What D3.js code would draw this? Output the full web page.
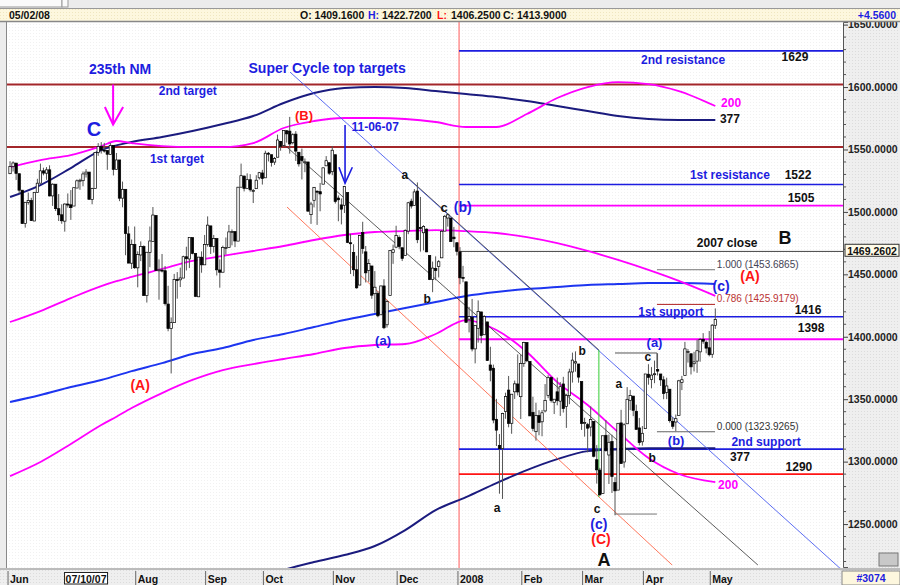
<!DOCTYPE html>
<html>
<head>
<meta charset="UTF-8">
<title>S&P 500 daily - wave count</title>
<script src="https://cdn.jsdelivr.net/npm/d3@7"></script>
<style>
  body { margin: 0; background: #fff; }
  svg text { font-family: "Liberation Sans", Arial, sans-serif; font-weight: bold; }
</style>
</head>
<body>
<svg id="chart" width="900" height="585"></svg>
<script>
// daily bars [open, high, low, close], one array per month
const jun07 = [[1530.6,1540.6,1530.6,1536.3],[1536.3,1540.5,1532.4,1539.2],[1539.1,1539.1,1525.6,1530.9],[1530.6,1530.6,1514.8,1517.4],[1517.4,1517.4,1490.4,1490.7],[1490.7,1507.8,1487.4,1507.7],[1507.6,1515.5,1505.8,1509.1],[1509.1,1511.3,1492.7,1493.0],[1492.7,1515.7,1492.7,1515.7],[1515.6,1526.5,1515.6,1523.0],[1523.0,1538.7,1523.0,1532.9],[1532.9,1535.4,1529.3,1531.1],[1531.0,1535.9,1525.7,1533.7],[1533.7,1537.3,1512.4,1512.8],[1512.8,1522.9,1504.8,1522.2],[1522.2,1522.2,1500.7,1502.6],[1502.6,1514.3,1492.7,1497.7],[1497.7,1506.1,1490.5,1492.9],[1492.6,1506.8,1484.2,1506.3],[1506.3,1514.8,1503.4,1505.7],[1505.7,1517.5,1493.6,1503.4]];
const jul07 = [[1504.7,1519.5,1504.7,1519.4],[1519.1,1526.0,1519.1,1524.9],[1524.9,1526.6,1517.7,1525.4],[1525.0,1532.4,1520.5,1530.4],[1530.4,1534.3,1527.5,1531.9],[1531.9,1531.9,1510.0,1510.1],[1509.9,1519.3,1506.1,1518.8],[1518.7,1547.9,1518.7,1547.7],[1547.7,1555.1,1544.9,1552.5],[1552.5,1555.9,1546.7,1549.5],[1549.5,1555.3,1547.5,1549.4],[1549.2,1549.2,1533.7,1546.2],[1546.1,1555.2,1546.1,1553.1],[1553.2,1553.2,1529.2,1534.1],[1534.1,1547.2,1534.1,1541.6],[1541.6,1541.6,1508.6,1511.0],[1511.0,1524.3,1503.7,1518.1],[1518.1,1518.1,1465.3,1482.7],[1482.4,1488.5,1459.0,1459.0],[1458.9,1477.9,1454.3,1473.9],[1473.9,1488.3,1454.3,1455.3]];
const aug07 = [[1455.2,1468.4,1439.6,1465.8],[1465.5,1476.4,1460.6,1472.2],[1472.2,1473.2,1432.8,1433.1],[1433.0,1467.7,1427.4,1467.7],[1467.6,1488.3,1455.8,1476.7],[1476.2,1503.9,1476.2,1497.5],[1497.2,1497.2,1453.1,1453.1],[1453.1,1462.0,1429.7,1453.6],[1453.4,1466.3,1451.5,1452.9],[1452.9,1456.7,1425.0,1426.5],[1426.2,1440.8,1404.4,1406.7],[1406.6,1415.5,1370.6,1411.3],[1411.3,1450.3,1411.3,1445.9],[1445.9,1451.8,1430.5,1445.6],[1445.6,1455.3,1439.8,1447.1],[1447.0,1464.9,1447.0,1464.1],[1464.1,1472.1,1453.1,1462.5],[1462.3,1479.4,1455.0,1479.4],[1479.4,1479.4,1466.0,1466.8],[1466.7,1466.7,1432.0,1432.4],[1432.0,1463.8,1432.0,1463.8],[1463.7,1468.4,1451.3,1457.6],[1457.6,1481.5,1457.6,1474.0]];
const sep07 = [[1474.0,1496.4,1472.2,1489.4],[1488.8,1488.8,1466.3,1472.3],[1472.3,1481.5,1467.4,1478.6],[1478.6,1478.6,1449.1,1453.6],[1453.5,1462.0,1439.3,1451.7],[1451.7,1473.0,1451.7,1471.5],[1471.1,1479.5,1465.8,1471.6],[1471.5,1489.6,1471.5,1484.0],[1484.0,1486.0,1473.2,1484.3],[1484.2,1484.2,1471.8,1476.7],[1476.6,1519.9,1476.6,1519.8],[1519.8,1538.7,1519.8,1529.0],[1528.7,1529.1,1516.4,1518.8],[1518.8,1530.9,1518.8,1525.8],[1525.8,1530.2,1516.2,1517.7],[1516.3,1518.3,1507.1,1517.2],[1518.6,1529.4,1518.6,1525.4],[1527.3,1532.0,1525.9,1531.4],[1531.2,1533.7,1521.9,1526.8]];
const oct07 = [[1527.3,1549.0,1527.3,1547.0],[1547.0,1548.0,1540.4,1546.6],[1545.8,1545.8,1536.3,1539.6],[1539.9,1544.0,1537.6,1542.8],[1543.8,1561.9,1543.8,1557.6],[1556.5,1556.5,1549.0,1552.6],[1553.2,1565.3,1551.8,1565.2],[1565.0,1565.4,1555.5,1562.5],[1564.7,1576.1,1546.7,1554.4],[1555.4,1563.0,1554.1,1561.8],[1562.3,1564.7,1540.8,1548.7],[1547.8,1547.8,1536.3,1538.5],[1544.4,1550.7,1526.0,1541.2],[1539.3,1542.8,1531.8,1540.1],[1540.0,1540.0,1500.3,1500.6],[1497.8,1508.1,1490.4,1506.3],[1509.3,1520.0,1503.6,1519.6],[1516.6,1517.2,1489.6,1515.9],[1516.2,1523.2,1500.5,1514.4],[1522.2,1535.5,1522.2,1535.3],[1536.9,1544.7,1536.9,1541.0],[1539.4,1539.4,1529.6,1531.0],[1532.2,1552.8,1529.4,1549.4]];
const nov07 = [[1545.8,1545.8,1506.7,1508.4],[1511.1,1513.2,1492.5,1509.7],[1505.6,1510.8,1490.0,1502.2],[1505.3,1520.8,1499.1,1520.3],[1515.5,1515.5,1475.0,1475.6],[1475.3,1482.5,1450.3,1474.8],[1467.6,1474.1,1448.5,1453.7],[1453.7,1464.9,1438.5,1439.2],[1441.4,1481.4,1441.4,1481.0],[1483.4,1492.1,1466.5,1470.6],[1468.0,1472.7,1443.5,1451.2],[1453.1,1462.2,1444.0,1458.7],[1456.7,1456.7,1430.4,1433.3],[1434.5,1452.6,1419.3,1439.7],[1434.7,1436.4,1415.6,1416.8],[1417.6,1440.9,1417.6,1440.7],[1440.7,1446.1,1406.1,1407.2],[1409.6,1429.5,1407.4,1428.2],[1433.0,1469.0,1433.0,1469.0],[1467.4,1473.8,1458.4,1469.7],[1471.8,1488.9,1470.9,1481.1]];
const dec07 = [[1479.6,1481.2,1470.1,1472.4],[1471.3,1471.3,1460.7,1462.8],[1465.2,1486.1,1465.2,1485.0],[1484.6,1508.0,1482.2,1507.3],[1508.6,1510.6,1502.7,1504.7],[1505.1,1518.3,1505.0,1516.0],[1516.7,1523.6,1475.0,1477.7],[1487.6,1512.0,1468.2,1486.6],[1483.3,1489.4,1469.2,1488.4],[1486.2,1486.7,1467.8,1468.0],[1465.1,1465.1,1445.4,1445.9],[1445.9,1460.2,1435.7,1455.0],[1454.7,1464.4,1445.3,1453.0],[1456.4,1461.5,1447.5,1460.1],[1463.2,1485.4,1463.2,1484.5],[1484.6,1497.6,1484.6,1496.5],[1495.1,1498.9,1488.2,1497.7],[1495.1,1495.1,1475.9,1476.3],[1479.8,1488.0,1471.7,1478.5],[1475.3,1475.8,1465.1,1468.4]];
const jan08 = [[1468.0,1471.8,1442.1,1447.2],[1447.6,1456.8,1443.7,1447.2],[1444.0,1444.0,1411.2,1411.6],[1414.1,1423.9,1403.5,1416.2],[1415.7,1430.3,1388.3,1390.2],[1390.3,1409.2,1378.7,1409.1],[1406.8,1429.1,1395.3,1420.3],[1419.9,1419.9,1394.8,1401.0],[1401.6,1417.3,1401.6,1416.3],[1411.9,1411.9,1380.6,1381.0],[1377.4,1392.0,1364.3,1373.2],[1374.8,1377.7,1330.7,1333.3],[1333.9,1350.3,1312.5,1325.2],[1312.9,1322.1,1274.3,1310.5],[1310.4,1339.1,1270.1,1338.6],[1340.1,1355.2,1334.3,1352.1],[1357.3,1368.6,1327.5,1330.6],[1330.7,1354.0,1322.3,1354.0],[1355.9,1364.9,1350.2,1362.3],[1362.2,1385.9,1353.0,1355.8],[1352.0,1385.6,1334.1,1378.6]];
const feb08 = [[1378.6,1396.0,1375.9,1395.4],[1395.4,1395.4,1379.7,1380.8],[1380.3,1380.3,1336.6,1336.6],[1339.5,1352.0,1324.3,1326.5],[1324.0,1347.2,1316.8,1336.9],[1336.9,1341.2,1321.1,1331.3],[1331.9,1341.4,1320.3,1339.1],[1340.6,1362.1,1339.4,1348.9],[1353.1,1369.2,1350.8,1367.2],[1367.3,1368.2,1347.3,1348.9],[1347.5,1350.0,1338.1,1350.0],[1355.9,1367.3,1345.1,1348.8],[1348.4,1363.7,1336.6,1360.0],[1362.2,1367.9,1339.3,1342.5],[1344.2,1354.3,1327.0,1353.1],[1352.8,1374.4,1346.0,1371.8],[1371.8,1387.3,1363.3,1381.3],[1379.0,1388.3,1372.0,1380.0],[1378.2,1378.2,1363.2,1367.7],[1364.1,1364.1,1325.4,1330.6]];
const mar08 = [[1330.5,1335.1,1320.0,1331.3],[1329.6,1331.0,1307.4,1326.8],[1327.7,1344.2,1320.2,1333.7],[1332.2,1332.2,1303.4,1304.3],[1301.5,1313.2,1282.4,1293.4],[1293.2,1295.0,1272.7,1273.4],[1274.4,1320.7,1274.4,1320.7],[1321.1,1333.3,1307.9,1308.8],[1305.3,1321.7,1282.1,1315.5],[1316.1,1321.5,1274.9,1288.1],[1283.2,1287.5,1257.0,1276.6],[1277.2,1330.7,1277.2,1330.7],[1331.0,1341.5,1298.4,1298.4],[1299.7,1330.7,1295.2,1329.5],[1330.3,1359.7,1330.3,1349.9],[1349.1,1357.5,1341.2,1353.0],[1352.5,1352.5,1336.4,1341.1],[1340.3,1345.6,1325.7,1325.8],[1327.0,1334.9,1313.0,1315.2],[1315.9,1328.5,1312.8,1322.7]];
const apr08 = [[1326.4,1370.2,1326.4,1370.2],[1370.0,1378.0,1361.6,1367.5],[1365.7,1375.7,1358.7,1369.3],[1369.9,1380.9,1362.8,1370.4],[1373.7,1386.7,1369.0,1372.5],[1370.2,1370.2,1360.6,1365.5],[1365.5,1368.4,1350.0,1354.5],[1355.4,1367.2,1350.1,1360.6],[1358.0,1358.0,1331.2,1332.8],[1332.2,1335.6,1326.2,1328.3],[1331.7,1337.7,1324.4,1334.4],[1337.0,1365.5,1337.0,1364.7],[1363.4,1368.6,1357.3,1365.6],[1369.0,1395.9,1369.0,1390.3],[1387.7,1390.2,1379.3,1388.2],[1386.4,1386.4,1369.8,1375.9],[1378.4,1387.9,1372.2,1379.9],[1380.5,1397.7,1371.1,1388.8],[1387.9,1399.1,1380.0,1397.8],[1398.0,1402.9,1394.4,1396.4],[1395.6,1397.0,1386.7,1390.9],[1391.2,1404.6,1384.3,1385.6]];
const may08 = [[1386.0,1410.1,1383.1,1409.3],[1409.16,1422.72,1406.25,1413.90]];

const monthLabels = ["Jun", "07/10/07", "Aug", "Sep", "Oct", "Nov", "Dec", "2008", "Feb", "Mar", "Apr", "May"];
const months = [jun07, jul07, aug07, sep07, oct07, nov07, dec07, jan08, feb08, mar08, apr08, may08];

const bandIdx = [0,10,20,30,40,50,60,70,80,90,100,110,120,130,140,150,160,170,180,190,200,210,220,232];
const ma377Upper = [1511.9,1521.5,1535.1,1549.5,1556.0,1560.0,1564.8,1570.4,1576.8,1587.2,1595.2,1599.2,1600.0,1599.2,1596.8,1594.4,1592.0,1588.8,1584.8,1580.8,1576.8,1574.4,1573.6,1573.6];
const ma377 = [1347.7,1353.3,1359.7,1365.3,1372.5,1378.9,1386.2,1391.0,1397.4,1402.2,1407.8,1413.4,1418.2,1423.0,1427.8,1432.6,1435.8,1438.2,1439.8,1441.4,1442.2,1443.0,1443.0,1442.2];
const lowerIdx = [85,90,100,110,120,130,140,150,160,170,180,190,200,210,220,232];
const ma377Lower = [1209.2,1213.2,1219.6,1225.2,1232.4,1245.2,1261.2,1271.6,1282.8,1293.2,1302.0,1308.4,1310.0,1310.8,1310.8,1310.8];
const ma200Idx = [0,10,20,30,35,40,50,60,70,80,90,100,110,120,130,140,150,160,170,180,190,200,210,220,232];
const ma200Upper = [1535.9,1541.5,1545.5,1552.7,1556.8,1555.1,1552.7,1551.9,1551.9,1555.1,1567.2,1572.8,1575.2,1575.2,1574.4,1572.0,1568.0,1568.0,1578.4,1591.2,1600.0,1604.0,1602.4,1596.8,1584.8];
const ma200 = [1411.8,1420.6,1431.0,1440.6,1444.5,1447.9,1454.3,1460.7,1464.7,1468.7,1472.7,1477.5,1481.5,1483.9,1484.6,1485.4,1484.6,1483.1,1479.8,1475.0,1468.7,1461.5,1453.5,1444.7,1432.7];
const ma200Lower = [1288.4,1299.7,1314.1,1329.3,1336.0,1342.9,1354.9,1365.4,1373.3,1378.1,1382.2,1386.2,1391.0,1393.4,1394.2,1402.2,1413.4,1405.4,1387.8,1363.7,1345.3,1323.7,1302.9,1290.1,1283.6];

// price levels
const targetLevels = [1602, 1552];
const levelValues = [1629, 1522, 1505, 1468.36, 1416, 1398, 1310, 1290];
const fibLevels = [1453.6865, 1425.9179, 1323.9265];
const closeMarker = 1469.2602;

// trend lines [[bar, price], [bar, price]]
const channelBlue = [[92.1, 1612.0], [274, 1212.4]];
const channelBlackLow = [[88.8, 1556.8], [246, 1217.2]];
const channelBlackHigh = [[129.9, 1529.5], [193.7, 1389.4]];
const channelRed = [[91.1, 1503.9], [217.8, 1217.2]];

const header = { date: "05/02/08", o: "1409.1600", h: "1422.7200", l: "1406.2500", c: "1413.9000", chg: "+4.5600" };

// ---------------------------------------------------------------
const bars = [].concat(...months);
const starts = [];
months.reduce((acc, m) => { starts.push(acc); return acc + m.length; }, 0);

const svg = d3.select("#chart");
const L = 7, R = 843, T = 22, B = 568;
const x = d3.scaleLinear().domain([-1, 274]).range([L, R]);
const y = d3.scaleLinear().domain([1215.6, 1652.1]).range([567, 22]);

const BLUE = "#1d1de0", RED = "#ff1414", MAG = "#ff00ff", NAVY = "#1b1b7e", DKRED = "#a3262a";

const defs = svg.append("defs");
defs.append("clipPath").attr("id", "plot").append("rect")
  .attr("x", L).attr("y", T).attr("width", R - L).attr("height", B - T);
defs.append("clipPath").attr("id", "axisclip").append("rect")
  .attr("x", 0).attr("y", T).attr("width", 900 - R).attr("height", B - T);
function dots(id, bg, fg) {
  const p = defs.append("pattern").attr("id", id).attr("width", 3).attr("height", 3)
    .attr("patternUnits", "userSpaceOnUse");
  p.append("rect").attr("width", 3).attr("height", 3).attr("fill", bg);
  p.append("rect").attr("width", 1).attr("height", 1).attr("fill", fg);
}
dots("dPlot", "#ffffff", "#f1f1f1");
dots("dAxis", "#efefef", "#dcdcdc");
dots("dHead", "#fdf7de", "#efe6c0");

// backgrounds
svg.append("rect").attr("width", 900).attr("height", 585).attr("fill", "#ececec");
svg.append("rect").attr("x", L).attr("y", T).attr("width", R - L).attr("height", B - T).attr("fill", "url(#dPlot)");
svg.append("rect").attr("x", R).attr("y", T).attr("width", 900 - R).attr("height", B - T).attr("fill", "url(#dAxis)");
svg.append("rect").attr("x", 0).attr("y", B).attr("width", 900).attr("height", 585 - B).attr("fill", "url(#dAxis)");

// right axis
const axisG = svg.append("g").attr("transform", `translate(${R},0)`).attr("clip-path", "url(#axisclip)");
axisG.call(d3.axisRight(y).tickValues(d3.range(1250, 1651, 50)).tickFormat(d3.format(".4f")).tickSize(5).tickPadding(1))
  .call(g => g.select(".domain").attr("stroke", "#555"))
  .call(g => g.selectAll(".tick line").attr("stroke", "#444"))
  .call(g => g.selectAll("text").attr("fill", "#222").style("font-size", "10.5px").attr("x", 5));
axisG.selectAll(".minor").data(d3.range(1220, 1651, 10).filter(v => v % 50 !== 0)).enter()
  .append("line").attr("x1", 0).attr("x2", 3).attr("y1", d => y(d)).attr("y2", d => y(d)).attr("stroke", "#555");

const plot = svg.append("g").attr("clip-path", "url(#plot)");

// vertical year line
plot.append("line").attr("x1", x(147.7)).attr("x2", x(147.7)).attr("y1", T).attr("y2", B)
  .attr("stroke", "#ff5a5a").attr("stroke-width", 1);

// target lines (full width)
plot.selectAll(".tgt").data(targetLevels).enter().append("line")
  .attr("x1", L).attr("x2", R).attr("y1", d => y(d)).attr("y2", d => y(d))
  .attr("stroke", DKRED).attr("stroke-width", 2);

// 2008 levels
const levelColors = [BLUE, BLUE, MAG, "#444", BLUE, MAG, BLUE, RED];
const levelWidths = [1.6, 1.6, 1.8, 1, 1.6, 1.8, 1.8, 1.8];
plot.selectAll(".lvl").data(levelValues).enter().append("line")
  .attr("x1", x(147.7)).attr("x2", R).attr("y1", d => y(d)).attr("y2", d => y(d))
  .attr("stroke", (d, i) => levelColors[i]).attr("stroke-width", (d, i) => levelWidths[i]);

// bands
function band(idx, vals, color, w) {
  plot.append("path").datum(idx.map((d, i) => [d, vals[i]]))
    .attr("fill", "none").attr("stroke", color).attr("stroke-width", w)
    .attr("d", d3.line().x(d => x(d[0])).y(d => y(d[1])).curve(d3.curveMonotoneX));
}
band(bandIdx, ma377Upper, NAVY, 2);
band(bandIdx, ma377, "#1d35f0", 2);
band(lowerIdx, ma377Lower, NAVY, 2);
band(ma200Idx, ma200Upper, MAG, 1.8);
band(ma200Idx, ma200, MAG, 1.8);
band(ma200Idx, ma200Lower, MAG, 1.8);

// trend lines
function seg(pts, color, w) {
  plot.append("line").attr("x1", x(pts[0][0])).attr("y1", y(pts[0][1]))
    .attr("x2", x(pts[1][0])).attr("y2", y(pts[1][1]))
    .attr("stroke", color).attr("stroke-width", w);
}
seg(channelBlue, "#4a5cf0", 0.9);
seg(channelBlackLow, "#333", 0.8);
seg(channelBlackHigh, "#333", 0.8);
seg(channelRed, "#ff5533", 0.8);

// fib markers
const fibColors = ["#777", "#b02020", "#666"];
plot.selectAll(".fib").data(fibLevels).enter().append("line")
  .attr("x1", x(212.8)).attr("x2", x(231.9)).attr("y1", d => y(d)).attr("y2", d => y(d))
  .attr("stroke", (d, i) => fibColors[i]).attr("stroke-width", 1);
seg([[199, 1258], [212.8, 1258]], "#777", 1);
seg([[199, 1387], [212.8, 1387]], "#555", 1);
seg([[212.8, 1387], [212.8, 1375]], "#555", 1);
seg([[193.7, 1389.4], [193.7, 1271.6]], "#33cc33", 1);

// candles
const cw = 2.4;
const candle = plot.selectAll(".bar").data(bars).enter().append("g");
candle.append("line")
  .attr("x1", (d, i) => x(i)).attr("x2", (d, i) => x(i))
  .attr("y1", d => y(d[1])).attr("y2", d => y(d[2]))
  .attr("stroke", "#555").attr("stroke-width", 1);
candle.append("rect")
  .attr("x", (d, i) => x(i) - cw / 2).attr("width", cw)
  .attr("y", d => y(Math.max(d[0], d[3])))
  .attr("height", d => Math.max(1, Math.abs(y(d[0]) - y(d[3]))))
  .attr("fill", d => d[3] >= d[0] ? "#fff" : "#000")
  .attr("stroke", "#000").attr("stroke-width", 0.7);

// arrows
const arrowMag = plot.append("g").attr("stroke", MAG).attr("stroke-width", 2).attr("fill", "none");
arrowMag.append("line").attr("x1", x(33.9)).attr("x2", x(33.9)).attr("y1", y(1602)).attr("y2", y(1570));
arrowMag.append("path").attr("d", `M${x(31.2)},${y(1584)}L${x(33.9)},${y(1570)}L${x(37.2)},${y(1584)}`);
const arrowBlue = plot.append("g").attr("stroke", BLUE).attr("stroke-width", 1.6).attr("fill", "none");
arrowBlue.append("line").attr("x1", x(110.2)).attr("x2", x(110.2)).attr("y1", y(1569.6)).attr("y2", y(1523));
arrowBlue.append("path").attr("d", `M${x(108.2)},${y(1535.8)}L${x(110.2)},${y(1523)}L${x(112.6)},${y(1535.8)}`);

// labels [text, bar, price, colour, size]
const notes = [
  ["235th NM", 36.2, 1614.4, BLUE, 14], ["C", 27.6, 1566.4, BLUE, 20],
  ["Super Cycle top targets", 104.3, 1615.2, BLUE, 14], ["2nd target", 58.5, 1596.8, BLUE, 12],
  ["1st target", 54.9, 1542.3, BLUE, 12], ["(B)", 96.7, 1577.6, RED, 13],
  ["11-06-07", 120.1, 1568, BLUE, 12], ["a", 129.9, 1529.5, "#111", 12],
  ["c", 142.8, 1503.9, "#111", 13], ["(b)", 148.9, 1503.9, BLUE, 14],
  ["b", 137.2, 1430.2, "#111", 12], ["(a)", 122.7, 1397.4, BLUE, 13],
  ["(A)", 42.8, 1361.3, RED, 14], ["a", 160.2, 1262.8, "#111", 12],
  ["b", 188.2, 1388.6, "#111", 12], ["a", 200.3, 1362.1, "#111", 12],
  ["(a)", 212.0, 1395.6, BLUE, 13], ["c", 209.8, 1383.4, "#111", 12],
  ["(b)", 219.1, 1317.3, BLUE, 13], ["b", 211.2, 1302.9, "#111", 12],
  ["c", 193.1, 1262, "#111", 12], ["(c)", 193.7, 1250, BLUE, 14],
  ["(C)", 194.4, 1238, RED, 14], ["A", 195.4, 1221.2, "#111", 18],
  ["2nd resistance", 221.4, 1621.6, BLUE, 12], ["1629", 258.2, 1624, "#111", 12],
  ["377", 236.8, 1574.4, "#111", 12], ["200", 237.2, 1587.2, MAG, 12],
  ["1st resistance", 236.8, 1529.5, BLUE, 12], ["1522", 259.2, 1529.5, "#111", 12],
  ["1505", 260.2, 1511.1, "#111", 12], ["2007 close", 235.9, 1475.1, "#111", 12],
  ["B", 254.9, 1479.1, "#111", 18], ["(A)", 243.4, 1448.6, RED, 14],
  ["(c)", 233.9, 1440.6, BLUE, 14], ["1st support", 217.4, 1419.8, BLUE, 12],
  ["1416", 262.5, 1421.4, "#111", 12], ["1398", 263.5, 1407, "#111", 12],
  ["2nd support", 248.7, 1315.7, BLUE, 12], ["377", 240.1, 1303.7, "#111", 12],
  ["1290", 259.5, 1295.7, "#111", 12], ["200", 236.2, 1281.2, MAG, 12]
];
plot.selectAll(".note").data(notes).enter().append("text")
  .attr("x", d => x(d[1])).attr("y", d => y(d[2]))
  .attr("text-anchor", "middle").attr("dominant-baseline", "central")
  .attr("fill", d => d[3]).style("font-size", d => d[4] + "px").text(d => d[0]);

const fibText = [["1.000 (1453.6865)", 1458.2, "#445"], ["0.786 (1425.9179)", 1431, "#b33"], ["0.000 (1323.9265)", 1328.5, "#333"]];
plot.selectAll(".fibt").data(fibText).enter().append("text")
  .attr("x", x(232.5)).attr("y", d => y(d[1])).attr("dominant-baseline", "central")
  .attr("fill", d => d[2]).style("font-size", "10px").style("font-weight", "normal").text(d => d[0]);

// marker on the axis
const mk = svg.append("g").attr("transform", `translate(${R + 2},${y(closeMarker)})`);
mk.append("rect").attr("x", 0).attr("y", -6).attr("width", 54).attr("height", 12)
  .attr("fill", "#fffbe8").attr("stroke", "#333");
mk.append("text").attr("x", 27).attr("y", 0.5).attr("text-anchor", "middle").attr("dominant-baseline", "central")
  .attr("fill", "#111").style("font-size", "10.5px").text(closeMarker.toFixed(4));
svg.append("rect").attr("x", 879).attr("y", 553).attr("width", 19).attr("height", 13)
  .attr("fill", "#c8c8c8").attr("stroke", "#777");

// plot borders
svg.append("line").attr("x1", L - 0.5).attr("x2", L - 0.5).attr("y1", T).attr("y2", B).attr("stroke", "#888");

// header
svg.append("rect").attr("x", 0).attr("y", 0).attr("width", 900).attr("height", 9).attr("fill", "#ececec");
svg.append("rect").attr("x", -1).attr("y", -1).attr("width", 63).attr("height", 8).attr("fill", "#fafafa").attr("stroke", "#999");
svg.append("rect").attr("x", 62).attr("y", -1).attr("width", 6).attr("height", 8).attr("fill", "#fafafa").attr("stroke", "#999");
svg.append("rect").attr("x", 0).attr("y", 9).attr("width", 900).attr("height", 12).attr("fill", "url(#dHead)");
svg.append("line").attr("x1", 0).attr("x2", 900).attr("y1", 8.5).attr("y2", 8.5).attr("stroke", "#999");
svg.append("line").attr("x1", 0).attr("x2", 900).attr("y1", 21.5).attr("y2", 21.5).attr("stroke", "#888").attr("stroke-width", 1.5);
const head = svg.append("text").attr("y", 19).style("font-size", "10.5px").attr("fill", "#111");
head.append("tspan").attr("x", 9).text(header.date);
head.append("tspan").attr("x", 300).text("O: " + header.o);
head.append("tspan").attr("x", 368).attr("fill", BLUE).text("H: ");
head.append("tspan").attr("x", 382).text(header.h);
head.append("tspan").attr("x", 437).attr("fill", RED).text("L: ");
head.append("tspan").attr("x", 451).text(header.l);
head.append("tspan").attr("x", 503).text("C: " + header.c);
svg.append("text").attr("x", 896).attr("y", 19).attr("text-anchor", "end").attr("fill", BLUE)
  .style("font-size", "10.5px").text(header.chg);

// time axis
svg.append("line").attr("x1", 0).attr("x2", 900).attr("y1", B + 1).attr("y2", B + 1).attr("stroke", "#888");
const tx = svg.append("g");
monthLabels.forEach((m, k) => {
  const xs = x(starts[k]) - 2;
  if (m.includes("/")) {
    const cx = x(starts[k] + 4);
    tx.append("rect").attr("x", cx - 21.5).attr("y", 572.5).attr("width", 43).attr("height", 11.5)
      .attr("fill", "#fff").attr("stroke", "#222");
    tx.append("text").attr("x", cx).attr("y", 582.5).attr("text-anchor", "middle")
      .style("font-size", "10.5px").attr("fill", "#111").text(m);
  } else {
    tx.append("line").attr("x1", xs).attr("x2", xs).attr("y1", B + 3).attr("y2", 585).attr("stroke", "#666");
    tx.append("text").attr("x", xs + 2).attr("y", 582.5).style("font-size", "10.5px").attr("fill", "#111").text(m);
  }
});
svg.append("rect").attr("x", R - 1).attr("y", 571).attr("width", 900 - R + 1).attr("height", 14)
  .attr("fill", "#fdf7de").attr("stroke", "#888");
svg.append("text").attr("x", 871).attr("y", 582).attr("text-anchor", "middle").attr("fill", BLUE)
  .style("font-size", "10.5px").text("#3074");
</script>
</body>
</html>
